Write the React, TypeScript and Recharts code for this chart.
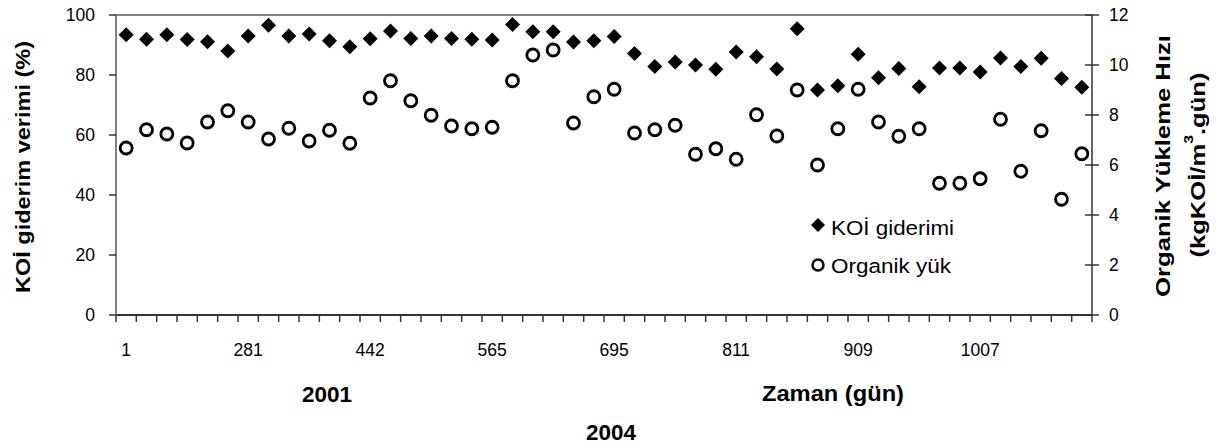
import { ScatterChart, Scatter, XAxis, YAxis, Legend, ReferenceLine } from "recharts";

// day labels shown under every 6th sample
const dayLabels = ["1", "281", "442", "565", "695", "811", "909", "1007"];

// KOİ giderim verimi (%) per sample
const koiRemoval = [
  93.4, 91.9, 93.4, 91.8, 91.1, 88.0, 93.0, 96.6, 93.0, 93.7, 91.4, 89.4,
  92.1, 94.7, 92.2, 93.0, 92.2, 91.9, 91.7, 96.8, 94.4, 94.4, 91.0, 91.4,
  92.8, 87.2, 82.8, 84.3, 83.3, 81.9, 87.7, 86.1, 82.0, 95.4, 75.0, 76.4,
  86.9, 79.1, 82.2, 76.1, 82.3, 82.3, 81.0, 85.7, 82.8, 85.6, 78.8, 75.9,
];

// Organik yükleme hızı (kgKOİ/m3.gün) per sample
const organicLoad = [
  6.68, 7.41, 7.24, 6.88, 7.72, 8.17, 7.72, 7.04, 7.47, 6.96, 7.39, 6.87,
  8.68, 9.37, 8.57, 7.99, 7.56, 7.45, 7.51, 9.37, 10.4, 10.6, 7.68, 8.73,
  9.03, 7.28, 7.41, 7.59, 6.43, 6.65, 6.23, 8.01, 7.16, 9.0, 6.0, 7.45,
  9.03, 7.72, 7.15, 7.45, 5.27, 5.27, 5.45, 7.83, 5.75, 7.37, 4.63, 6.45,
];

const leftTicks = [0, 20, 40, 60, 80, 100];
const rightTicks = [0, 2, 4, 6, 8, 10, 12];

const N = koiRemoval.length;
const LABEL_EVERY = 6;
const data = koiRemoval.map((v, i) => ({ pos: i + 0.5, koi: v, load: organicLoad[i] }));
const boundaryTicks = Array.from({ length: N + 1 }, (_, i) => i);

const FONT = "'Liberation Sans', Arial, sans-serif";
const AXIS = "#333";
const X_TICK = 7;
const X_GAP = 22;

const Diamond = (props: any) => {
  const { cx, cy } = props;
  const s = 7.5;
  return <polygon points={`${cx},${cy - s} ${cx + s},${cy} ${cx},${cy + s} ${cx - s},${cy}`} fill="#000" />;
};

const Ring = (props: any) => {
  const { cx, cy } = props;
  return <circle cx={cx} cy={cy} r={6} fill="#fff" stroke="#000" strokeWidth={2.8} />;
};

// tick marks sit on category boundaries, labels in the middle of every 6th category
const DayTick = (props: any) => {
  const { x, y, payload, width } = props;
  const k = payload.value;
  const axisY = y - X_GAP - X_TICK;
  const half = (width || 976) / N / 2;
  return (
    <g>
      <line x1={x} x2={x} y1={axisY} y2={axisY + X_TICK} stroke={AXIS} strokeWidth={1.5} />
      {k % LABEL_EVERY === 0 && k < N ? (
        <text x={x + half} y={y} dy="0.71em" textAnchor="middle" fontSize={17.5} fill="#000" fontFamily={FONT}>
          {dayLabels[k / LABEL_EVERY]}
        </text>
      ) : null}
    </g>
  );
};

// right axis ticks cross the axis line, like the original
const RightTick = (props: any) => {
  const { x, y, payload } = props;
  const ax = x - 17;
  return (
    <g>
      <line x1={ax - 7} x2={ax + 7} y1={y} y2={y} stroke={AXIS} strokeWidth={1.5} />
      <text x={x} y={y} dy="0.36em" textAnchor="start" fontSize={17.5} fill="#000" fontFamily={FONT}>
        {payload.value}
      </text>
    </g>
  );
};

const renderLegend = () => (
  <svg width={190} height={80} style={{ fontFamily: FONT }}>
    <polygon points="18,13 25,20 18,27 11,20" fill="#000" />
    <text x={31} y={30} fontSize={20.5} fill="#000" textLength={123} lengthAdjust="spacingAndGlyphs">KOİ giderimi</text>
    <circle cx={18} cy={60} r={5.5} fill="#fff" stroke="#000" strokeWidth={2.5} />
    <text x={31} y={68} fontSize={20.5} fill="#000" textLength={120} lengthAdjust="spacingAndGlyphs">Organik yük</text>
  </svg>
);

const LeftTitle = (props: any) => {
  const { x, y, height } = props.viewBox;
  const cx = x + 22;
  const cy = y + height / 2 + 2;
  return (
    <text x={cx} y={cy} transform={`rotate(-90 ${cx} ${cy})`} textAnchor="middle" dominantBaseline="central"
      fontSize={21} fontWeight="bold" fontFamily={FONT} fill="#000" textLength={252} lengthAdjust="spacingAndGlyphs">
      KOİ giderim verimi (%)
    </text>
  );
};

const RightTitle = (props: any) => {
  const { x, y, height } = props.viewBox;
  const cy = y + height / 2;
  const x1 = x + 70;
  const x2 = x + 105;
  return (
    <g fontSize={21} fontWeight="bold" fontFamily={FONT} fill="#000">
      <text x={x1} y={cy + 1} transform={`rotate(-90 ${x1} ${cy + 1})`} textAnchor="middle" dominantBaseline="central"
        textLength={262} lengthAdjust="spacingAndGlyphs">
        Organik Yükleme Hızı
      </text>
      <text x={x2} y={cy} transform={`rotate(-90 ${x2} ${cy})`} textAnchor="middle" dominantBaseline="central"
        textLength={185} lengthAdjust="spacingAndGlyphs">
        (kgKOİ/m<tspan fontSize={13} dy={-9}>3</tspan><tspan dy={9}>.gün)</tspan>
      </text>
    </g>
  );
};

const XTitles = (props: any) => {
  const { x } = props.viewBox;
  return (
    <g fontSize={21.5} fontWeight="bold" fontFamily={FONT} fill="#000" textAnchor="middle">
      <text x={x + 211} y={402} textLength={50} lengthAdjust="spacingAndGlyphs">2001</text>
      <text x={x + 717} y={401} textLength={142} lengthAdjust="spacingAndGlyphs">Zaman (gün)</text>
      <text x={x + 495} y={440} textLength={50} lengthAdjust="spacingAndGlyphs">2004</text>
    </g>
  );
};

export default function App() {
  return (
    <div style={{ position: "absolute", left: 0, top: 0, width: 1222, height: 447, background: "#fff" }}>
      <ScatterChart width={1222} height={447} margin={{ top: 15, right: 0, bottom: 0, left: 0 }} style={{ fontFamily: FONT }}>
        <XAxis
          type="number"
          dataKey="pos"
          domain={[0, N]}
          ticks={boundaryTicks}
          interval={0}
          tick={DayTick}
          tickSize={X_TICK}
          tickMargin={X_GAP}
          height={132}
          axisLine={{ stroke: AXIS, strokeWidth: 2 }}
          tickLine={false}
          label={{ content: XTitles }}
        />
        <YAxis
          yAxisId="left"
          dataKey="koi"
          domain={[0, 100]}
          ticks={leftTicks}
          interval={0}
          width={116}
          tickSize={7}
          tickMargin={14}
          axisLine={{ stroke: "#808080", strokeWidth: 2 }}
          tickLine={{ stroke: AXIS, strokeWidth: 1.5 }}
          tick={{ fontSize: 17.5, fill: "#000" }}
          label={{ content: LeftTitle }}
        />
        <YAxis
          yAxisId="right"
          orientation="right"
          dataKey="load"
          domain={[0, 12]}
          ticks={rightTicks}
          interval={0}
          width={130}
          tickSize={7}
          tickMargin={10}
          axisLine={{ stroke: AXIS, strokeWidth: 1.5 }}
          tickLine={false}
          tick={RightTick}
          label={{ content: RightTitle }}
        />
        <ReferenceLine yAxisId="left" y={100} stroke="#808080" strokeWidth={2} />
        <Legend
          layout="horizontal"
          verticalAlign="middle"
          align="center"
          content={renderLegend}
          wrapperStyle={{ position: "absolute", left: 800, top: 205, width: 190, height: 80 }}
        />
        <Scatter name="Organik yük" data={data} yAxisId="right" shape={Ring} isAnimationActive={false} />
        <Scatter name="KOİ giderimi" data={data} yAxisId="left" shape={Diamond} isAnimationActive={false} />
      </ScatterChart>
    </div>
  );
}
